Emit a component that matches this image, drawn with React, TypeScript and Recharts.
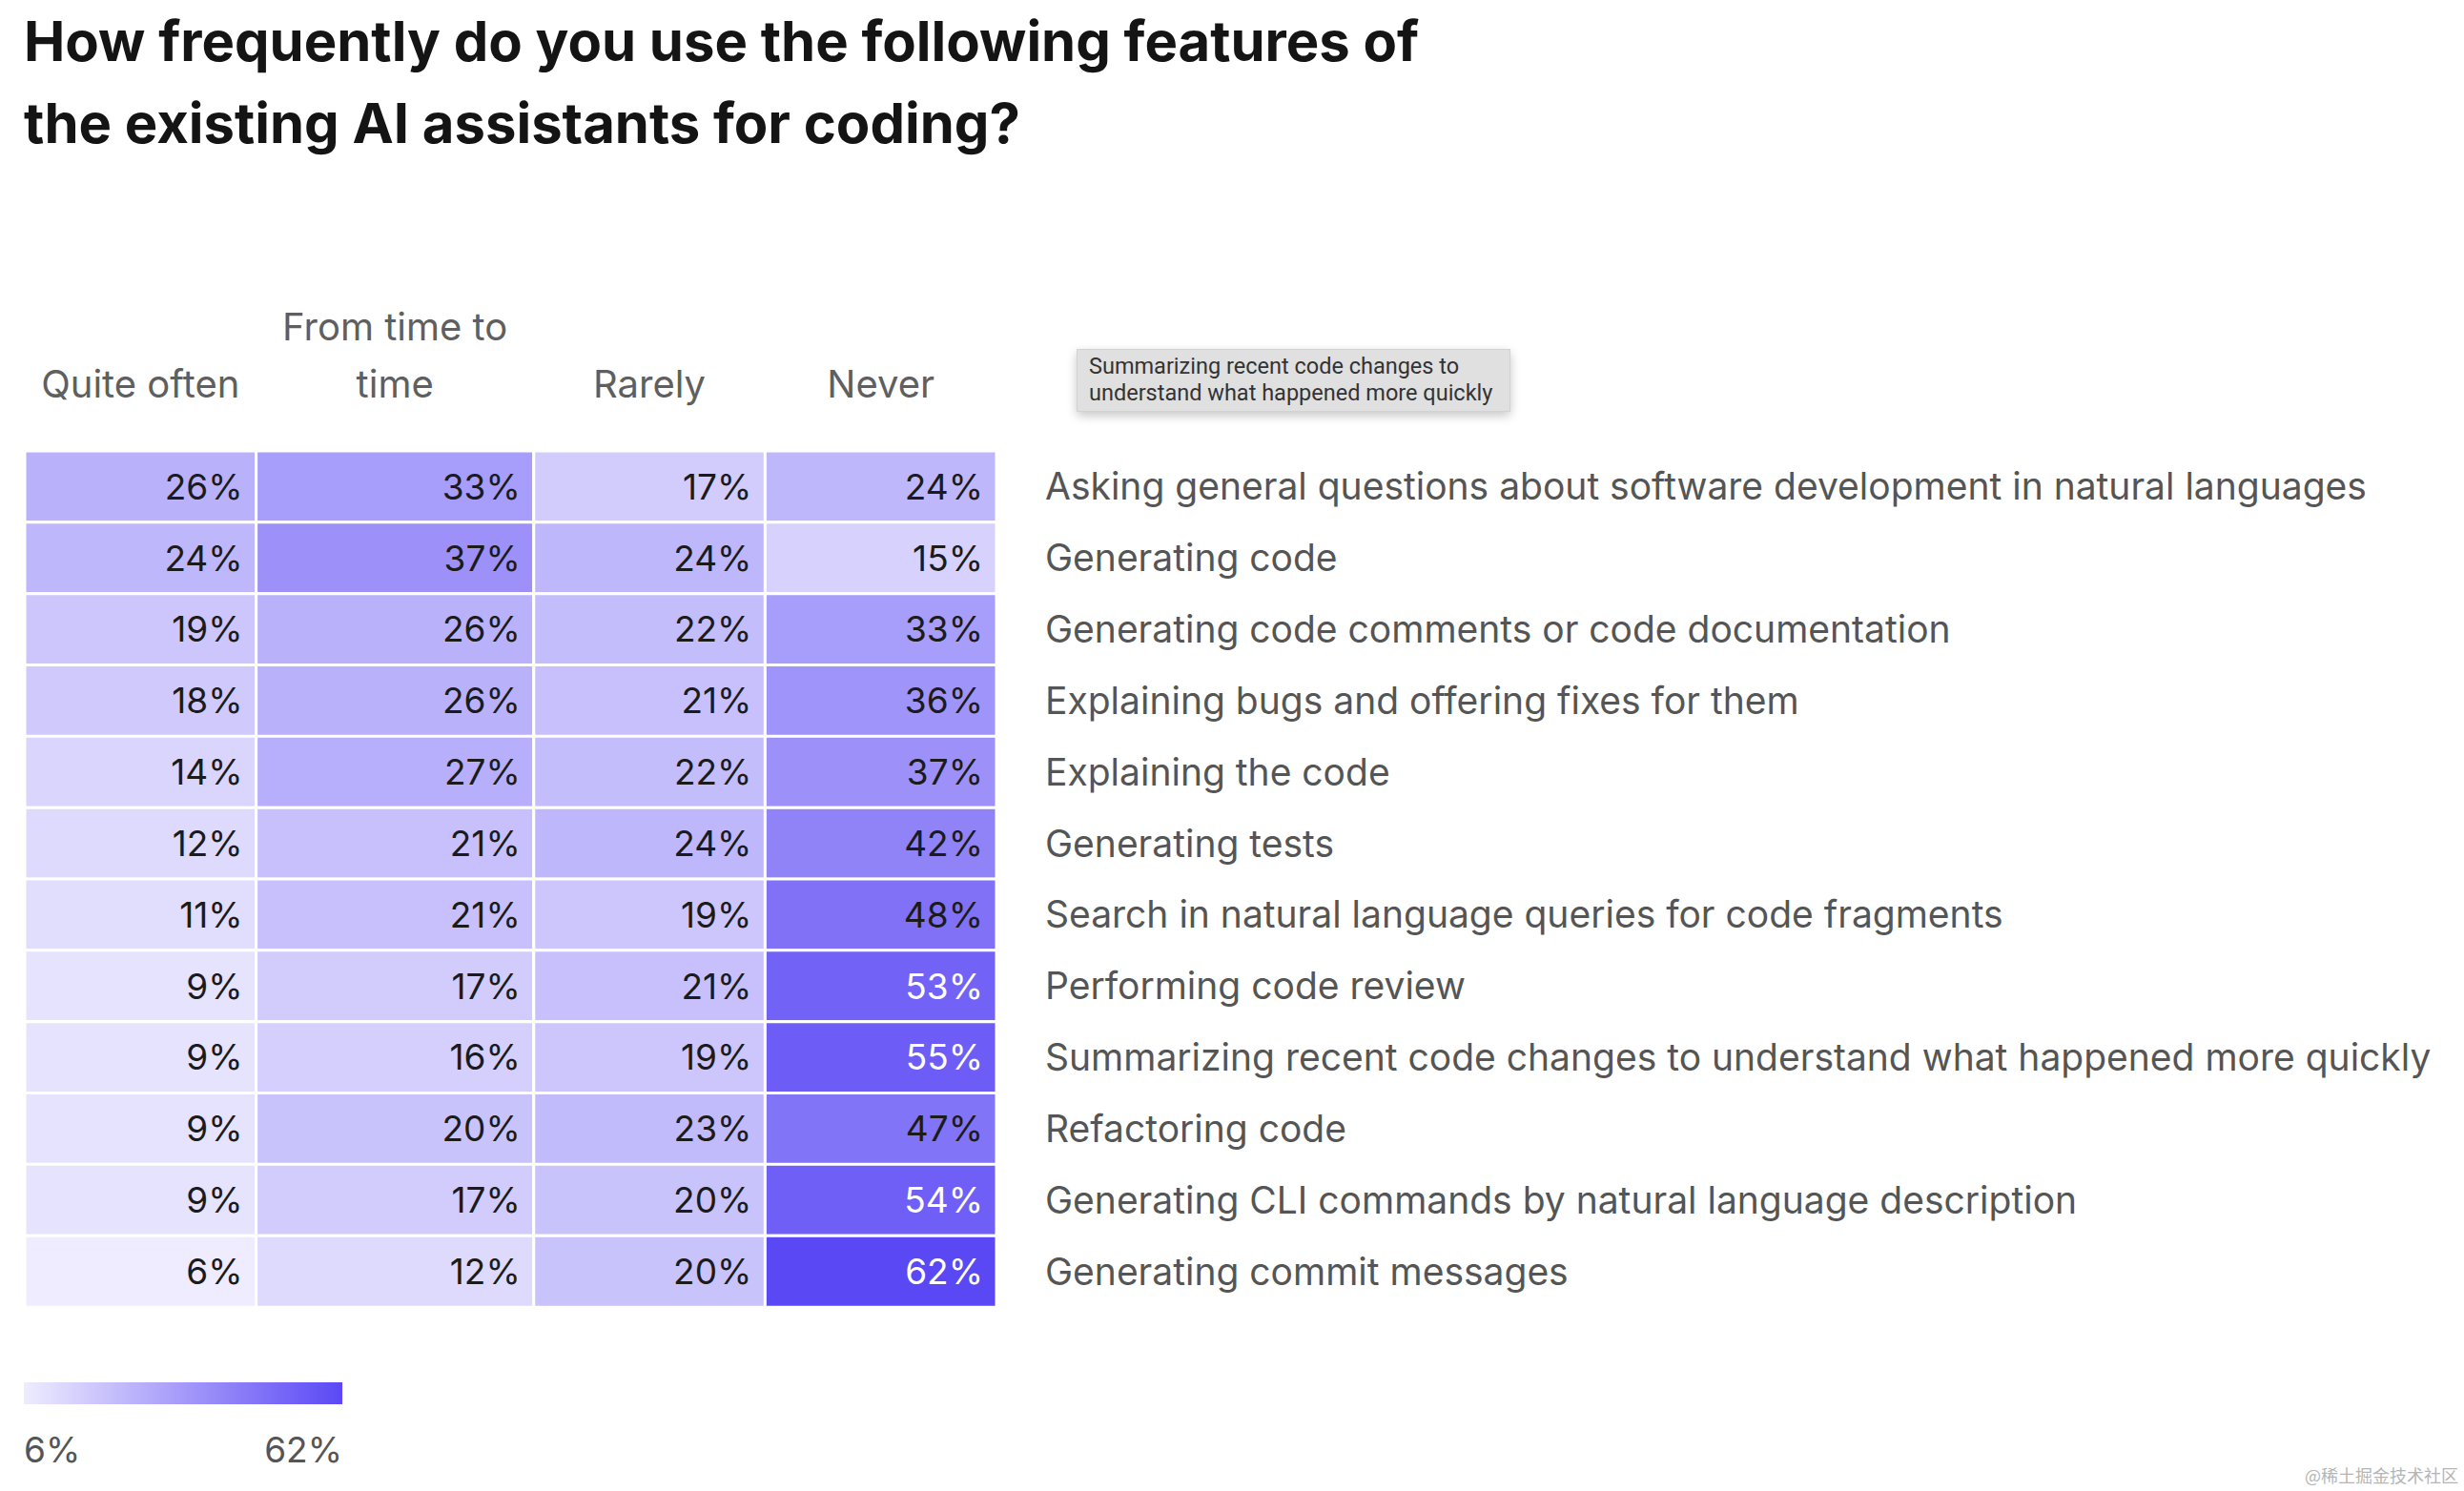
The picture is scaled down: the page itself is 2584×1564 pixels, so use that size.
import React from "react";
import { BarChart, Bar, XAxis, YAxis, Cell, LabelList } from "recharts";

const FEATURES = [
  "Asking general questions about software development in natural languages",
  "Generating code",
  "Generating code comments or code documentation",
  "Explaining bugs and offering fixes for them",
  "Explaining the code",
  "Generating tests",
  "Search in natural language queries for code fragments",
  "Performing code review",
  "Summarizing recent code changes to understand what happened more quickly",
  "Refactoring code",
  "Generating CLI commands by natural language description",
  "Generating commit messages",
];

const QUITE_OFTEN = [26, 24, 19, 18, 14, 12, 11, 9, 9, 9, 9, 6];
const FROM_TIME_TO_TIME = [33, 37, 26, 26, 27, 21, 21, 17, 16, 20, 17, 12];
const RARELY = [17, 24, 22, 21, 22, 24, 19, 21, 19, 23, 20, 20];
const NEVER = [24, 15, 33, 36, 37, 42, 48, 53, 55, 47, 54, 62];

const COLUMN_HEADERS = [["Quite often"], ["From time to", "time"], ["Rarely"], ["Never"]];
const SCALE_MIN = 6;
const SCALE_MAX = 62;

// layout only: the second column is a bit wider (its header wraps)
const COL_WEIGHTS = [1, 1.2, 1, 1];

const SERIES = [QUITE_OFTEN, FROM_TIME_TO_TIME, RARELY, NEVER];

const rows = FEATURES.map((feature, i) => {
  const row: Record<string, any> = { feature };
  SERIES.forEach((s, c) => {
    row[`v${c}`] = s[i];
    row[`w${c}`] = COL_WEIGHTS[c];
  });
  return row;
});

const totalWeight = COL_WEIGHTS.reduce((a, b) => a + b, 0);
const colCenters = COL_WEIGHTS.map(
  (w, i) => COL_WEIGHTS.slice(0, i).reduce((a, b) => a + b, 0) + w / 2
);

const LOW = [238, 236, 254];
const HIGH = [91, 72, 245];
const colorFor = (v: number) => {
  const t = (v - SCALE_MIN) / (SCALE_MAX - SCALE_MIN);
  const c = LOW.map((l, k) => Math.round(l + (HIGH[k] - l) * t));
  return `rgb(${c[0]},${c[1]},${c[2]})`;
};

const FONT = "Inter, 'Noto Sans', sans-serif";

const renderValue = (props: any) => {
  const x = Number(props.x);
  const y = Number(props.y);
  const width = Number(props.width);
  const height = Number(props.height);
  const value = Number(props.value);
  return (
    <text
      x={x + width - 14}
      y={y + height / 2}
      dy="0.36em"
      textAnchor="end"
      fill={value >= 50 ? "#ffffff" : "#1b1b1b"}
      fontSize={37}
      fontFamily={FONT}
    >
      {value}%
    </text>
  );
};

const HeaderTick = (props: any) => {
  const { x, y, index } = props;
  const lines = COLUMN_HEADERS[index] || [];
  const base = Number(y) - 48;
  return (
    <text textAnchor="middle" fill="#5f5f5f" fontSize={40} fontFamily={FONT}>
      {lines.map((line, k) => (
        <tspan key={k} x={x} y={base - (lines.length - 1 - k) * 60}>
          {line}
        </tspan>
      ))}
    </text>
  );
};

const FeatureTick = (props: any) => {
  const { x, y, payload } = props;
  return (
    <text
      x={Number(x) + 43}
      y={y}
      dy="0.36em"
      textAnchor="start"
      fill="#555555"
      fontSize={39}
      fontFamily={FONT}
    >
      {payload.value}
    </text>
  );
};

export default function App() {
  return (
    <div
      style={{
        position: "absolute",
        left: 0,
        top: 0,
        width: 2584,
        height: 1564,
        background: "#fff",
        overflow: "hidden",
        fontFamily: FONT,
      }}
    >
      <div
        style={{
          position: "absolute",
          left: 25,
          top: 0,
          fontSize: 58,
          lineHeight: "86px",
          fontWeight: 700,
          color: "#141414",
        }}
      >
        How frequently do you use the following features of
        <br />
        the existing AI assistants for coding?
      </div>

      <div style={{ position: "absolute", left: 0, top: 0 }}>
        <BarChart
          width={2584}
          height={1564}
          data={rows}
          layout="vertical"
          margin={{ top: 333, right: 39, bottom: 193, left: 26 }}
          barCategoryGap={0}
        >
          <XAxis
            type="number"
            orientation="top"
            domain={[0, totalWeight]}
            ticks={colCenters}
            height={140}
            axisLine={false}
            tickLine={false}
            tick={<HeaderTick />}
            interval={0}
          />
          <YAxis
            type="category"
            dataKey="feature"
            orientation="right"
            width={1500}
            axisLine={false}
            tickLine={false}
            interval={0}
            tick={<FeatureTick />}
          />
          {SERIES.map((_, c) => (
            <Bar
              key={c}
              dataKey={`w${c}`}
              stackId="grid"
              stroke="#ffffff"
              strokeWidth={3}
              isAnimationActive={false}
            >
              {rows.map((r, i) => (
                <Cell key={i} fill={colorFor(r[`v${c}`])} />
              ))}
              <LabelList dataKey={`v${c}`} content={renderValue} />
            </Bar>
          ))}
        </BarChart>
      </div>

      <div
        style={{
          position: "absolute",
          left: 1129,
          top: 366,
          width: 455,
          height: 66,
          boxSizing: "border-box",
          background: "#e0e0e0",
          border: "1px solid #d2d2d2",
          boxShadow: "0 4px 10px rgba(0,0,0,0.22)",
          padding: "3px 12px",
          fontFamily: "Roboto, 'Noto Sans', sans-serif",
          fontSize: 23.5,
          lineHeight: "28px",
          color: "#333",
          whiteSpace: "nowrap",
        }}
      >
        Summarizing recent code changes to
        <br />
        understand what happened more quickly
      </div>

      <div
        style={{
          position: "absolute",
          left: 25,
          top: 1450,
          width: 334,
          height: 23,
          background: `linear-gradient(to right, ${colorFor(SCALE_MIN)}, ${colorFor(SCALE_MAX)})`,
        }}
      />
      <div
        style={{
          position: "absolute",
          left: 25,
          top: 1498,
          width: 334,
          fontSize: 37,
          color: "#555",
          display: "flex",
          justifyContent: "space-between",
        }}
      >
        <span>{SCALE_MIN}%</span>
        <span>{SCALE_MAX}%</span>
      </div>

      <div
        style={{
          position: "absolute",
          right: 6,
          top: 1534,
          fontSize: 18,
          color: "#b5b5b5",
          fontFamily: "'Noto Sans CJK SC', sans-serif",
        }}
      >
        @稀土掘金技术社区
      </div>
    </div>
  );
}
